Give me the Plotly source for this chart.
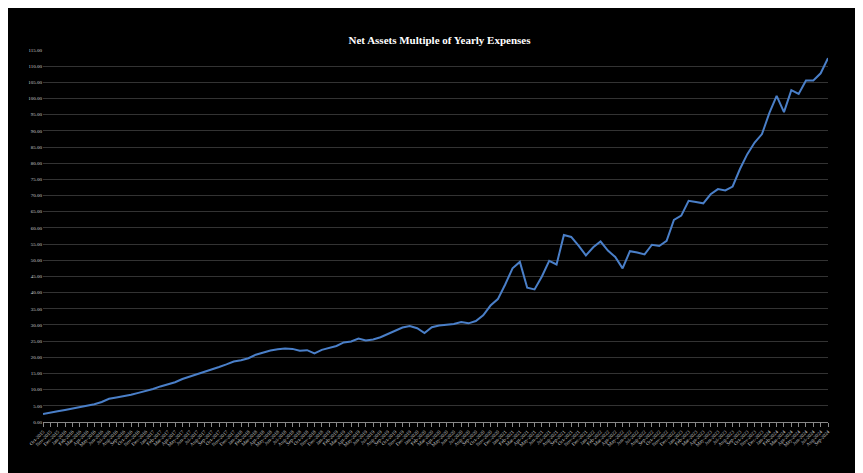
import plotly.graph_objects as go
import pandas as pd

values = [2.5,3.0,3.3,3.7,4.1,4.5,5.0,5.5,6.2,7.2,7.6,7.9,8.4,9.0,9.5,10.2,11.0,11.6,12.3,13.3,
14.0,14.8,15.6,16.3,17.0,17.8,18.7,19.1,19.7,20.8,21.5,22.1,22.5,22.7,22.6,22.0,22.2,21.2,22.3,23.0,
23.5,24.6,24.9,25.8,25.2,25.5,26.2,27.2,28.2,29.2,29.7,29.0,27.5,29.3,29.8,30.0,30.3,30.9,30.5,31.2,
33.0,36.0,38.0,42.5,47.5,49.5,41.5,41.0,45.0,49.8,48.7,57.8,57.2,54.5,51.5,54.0,55.8,53.0,51.0,47.5,
52.8,52.4,51.8,54.8,54.4,56.0,62.5,63.8,68.4,68.0,67.6,70.4,72.0,71.6,72.8,78.2,82.8,86.4,89.0,95.5,
100.8,95.8,102.6,101.4,105.6,105.6,107.8,112.5]
months = [d.strftime("%b-%Y") for d in pd.date_range("2015-10-01", periods=len(values), freq="MS")]
yticks = list(range(0, 120, 5))

fig = go.Figure(go.Scatter(x=months, y=values, mode="lines",
                           line=dict(color="#4a7fc8", width=2)))
fig.update_layout(
    width=863, height=473, paper_bgcolor="black", plot_bgcolor="black",
    margin=dict(l=35, r=43, t=42, b=59, autoexpand=False),
    title=dict(text="<b>Net Assets Multiple of Yearly Expenses</b>", x=0.5, y=0.94,
               font=dict(family="Liberation Serif", size=11, color="white")),
    showlegend=False,
    font=dict(family="Liberation Serif", color="white"),
)
fig.update_xaxes(type="category", tickangle=-45, tickfont=dict(size=5, color="#cccccc"),
                 showgrid=False, showline=True, linecolor="#888888", ticks="outside",
                 tickcolor="#888888", ticklen=4)
fig.update_yaxes(range=[0, 115], tickvals=yticks, ticktext=[f"{v:.2f}" for v in yticks],
                 tickfont=dict(size=5, color="#cccccc"), gridcolor="#333333",
                 zeroline=False)
fig.write_html("out.html")
